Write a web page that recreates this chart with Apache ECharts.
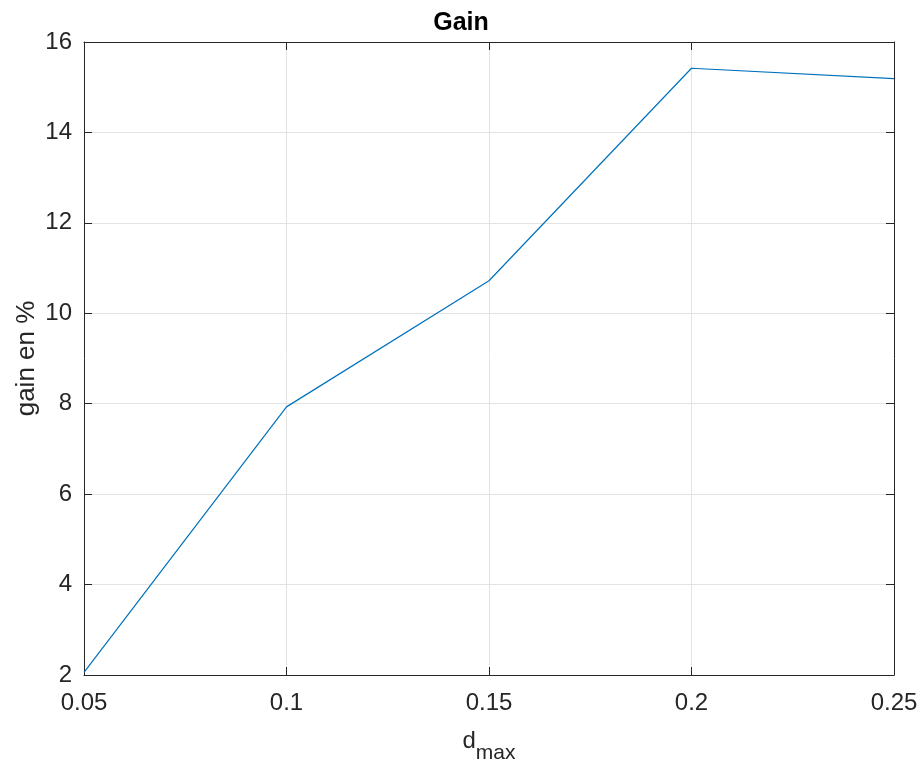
<!DOCTYPE html>
<html><head><meta charset="utf-8">
<script src="https://cdn.jsdelivr.net/npm/echarts@6/dist/echarts.min.js"></script>
<style>html,body{margin:0;padding:0;background:#fff}#c{width:922px;height:762px}</style>
</head><body><div id="c"></div>
<script>
const dmax = [0.05, 0.1, 0.15, 0.2, 0.25];
const gain = [2.06, 7.93, 10.72, 15.42, 15.19];
const titleText = 'Gain';
const yLabel = 'gain en %';

const chart = echarts.init(document.getElementById('c'));
const axisCol = '#262626';
const fnt = 'Liberation Sans, Arial, Helvetica, sans-serif';
const fmt = v => String(+(+v).toFixed(2));
const xCommon = {type:'value', min:0.05, max:0.25, interval:0.05};
const yCommon = {type:'value', min:2, max:16, interval:2};
chart.setOption({
  animation:false,
  title:{text:titleText, left:'center', top:6, textStyle:{fontFamily:fnt, fontSize:25, fontWeight:'bold', color:'#000'}},
  grid:{left:84, right:28, top:42, bottom:87, containLabel:false, outerBoundsMode:'none'},
  xAxis:[
    Object.assign({}, xCommon, {position:'bottom',
      axisLine:{lineStyle:{color:axisCol, width:1}},
      axisTick:{inside:true, length:8, lineStyle:{color:axisCol}},
      axisLabel:{formatter:fmt, fontFamily:fnt, fontSize:24, color:axisCol, margin:16},
      splitLine:{show:true, lineStyle:{color:'#e3e3e3', width:1}},
      name:'{d|d}{s|max}', nameLocation:'middle', nameGap:44,
      nameTextStyle:{rich:{d:{fontFamily:fnt, fontSize:24, color:axisCol}, s:{fontFamily:fnt, fontSize:21, color:axisCol, padding:[24,0,0,0]}}}
    }),
    Object.assign({}, xCommon, {position:'top',
      axisLine:{lineStyle:{color:axisCol, width:1}},
      axisTick:{inside:true, length:8, lineStyle:{color:axisCol}},
      axisLabel:{show:false}, splitLine:{show:false}})
  ],
  yAxis:[
    Object.assign({}, yCommon, {position:'left',
      axisLine:{show:true, lineStyle:{color:axisCol, width:1}},
      axisTick:{show:true, inside:true, length:8, lineStyle:{color:axisCol}},
      axisLabel:{fontFamily:fnt, fontSize:24, color:axisCol, margin:12},
      splitLine:{show:true, lineStyle:{color:'#e3e3e3', width:1}},
      name:yLabel, nameLocation:'middle', nameGap:44, nameRotate:90, nameMoveOverlap:false,
      nameTextStyle:{fontFamily:fnt, fontSize:26, color:axisCol}
    }),
    Object.assign({}, yCommon, {position:'right',
      axisLine:{show:true, lineStyle:{color:axisCol, width:1}},
      axisTick:{show:true, inside:true, length:8, lineStyle:{color:axisCol}},
      axisLabel:{show:false}, splitLine:{show:false}})
  ],
  series:[{type:'line', data:dmax.map((x,i)=>[x, gain[i]]), showSymbol:false, symbol:'none',
    lineStyle:{color:'#0072BD', width:1.2}, xAxisIndex:0, yAxisIndex:0}]
});
</script></body></html>
